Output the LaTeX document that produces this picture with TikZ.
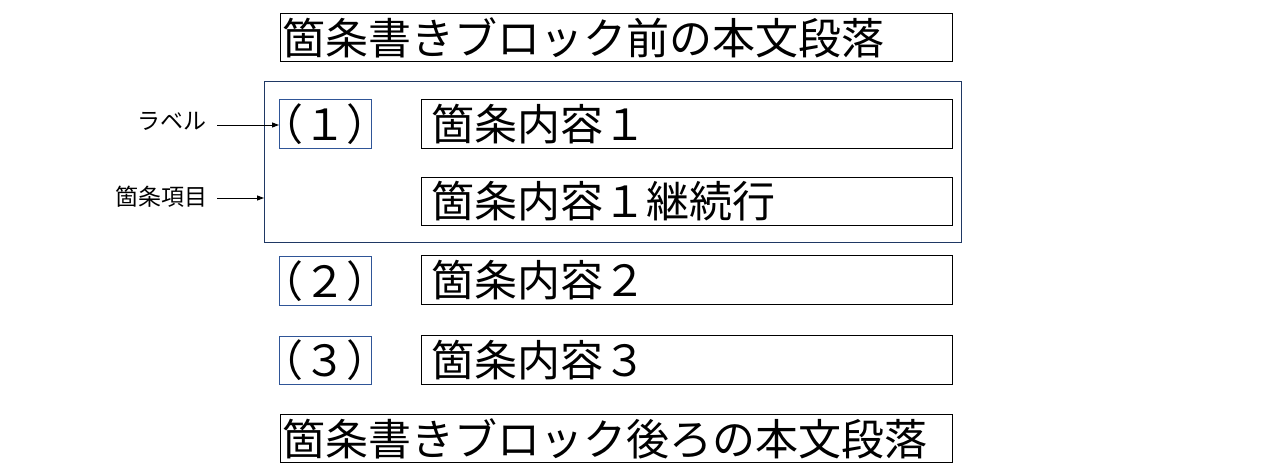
\documentclass[tikz,border=0pt]{standalone}
\usepackage{fontspec}
\newfontfamily\jp{Noto Sans CJK JP}
\usetikzlibrary{arrows.meta}
\definecolor{navy}{HTML}{1F3864}
\definecolor{lblue}{HTML}{2F5597}
\tikzset{
  big/.style={font=\jp\fontsize{43}{48}\selectfont},
  small/.style={font=\jp\fontsize{23}{27}\selectfont},
  cbox/.style={draw=black, line width=1pt, anchor=north west, inner sep=0pt},
  lbox/.style={draw=lblue, line width=0.9pt, anchor=north west, inner sep=0pt,
    minimum width=92pt, minimum height=49pt},
  ibox/.style={draw=navy, line width=1pt, anchor=north west, inner sep=0pt,
    minimum width=697pt, minimum height=161pt},
  ptr/.style={-{Triangle[length=7pt,width=5pt]}, line width=0.9pt}
}
\begin{document}
\begin{tikzpicture}[x=1pt,y=-1pt]
\useasboundingbox (0,0) rectangle (1280,473);
% paragraphs
\node[cbox, minimum width=672pt, minimum height=48pt] (before) at (280,13) {};
\node[big, anchor=west, inner sep=0pt] (beforet) at ([xshift=2pt]before.west) {箇条書きブロック前の本文段落};
\node[cbox, minimum width=672pt, minimum height=48pt] (after) at (280,414) {};
\node[big, anchor=west, inner sep=0pt] (aftert) at ([xshift=2pt]after.west) {箇条書きブロック後ろの本文段落};
% item 1 frame
\node[ibox] (item) at (264,81) {};
% labels
\node[lbox] (lab1) at (279,99) {};
\node[big, inner sep=0pt] at (lab1.center) {（１）};
\node[lbox] (lab2) at (279,256) {};
\node[big, inner sep=0pt] at (lab2.center) {（２）};
\node[lbox, minimum height=48pt] (lab3) at (279,336) {};
\node[big, inner sep=0pt] at (lab3.center) {（３）};
% contents
\node[cbox, minimum width=531pt, minimum height=49pt] (c1) at (421,99) {};
\node[big, anchor=west, inner sep=0pt] at ([xshift=10pt]c1.west) {箇条内容１};
\node[cbox, minimum width=531pt, minimum height=48pt] (c1b) at (421,177) {};
\node[big, anchor=west, inner sep=0pt] at ([xshift=10pt]c1b.west) {箇条内容１継続行};
\node[cbox, minimum width=531pt, minimum height=49pt] (c2) at (421,255) {};
\node[big, anchor=west, inner sep=0pt] at ([xshift=10pt]c2.west) {箇条内容２};
\node[cbox, minimum width=531pt, minimum height=49pt] (c3) at (421,335) {};
\node[big, anchor=west, inner sep=0pt] at ([xshift=10pt]c3.west) {箇条内容３};
% annotations
\node[small, anchor=east, inner sep=0pt] (nlab) at (207,121) {ラベル};
\node[small, anchor=east, inner sep=0pt] (nitem) at (208,197) {箇条項目};
\coordinate (s1) at (217,125);
\coordinate (s2) at (217,198);
\draw[ptr] (s1) -- (lab1.west |- s1);
\draw[ptr] (s2) -- (item.west |- s2);
\end{tikzpicture}
\end{document}
